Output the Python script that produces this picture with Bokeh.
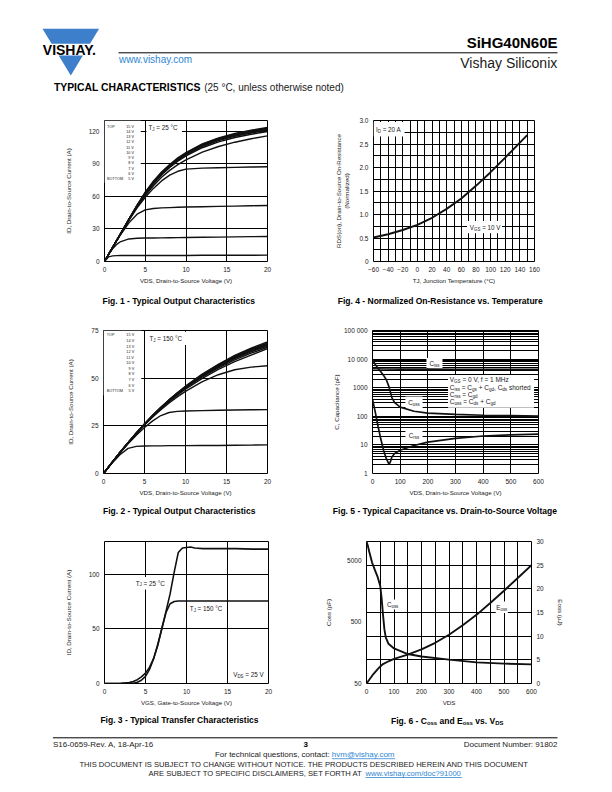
from bokeh.plotting import figure
from bokeh.models import Range1d, FixedTicker, LinearAxis, Grid, Label, LinearScale
from bokeh.layouts import column, row
from bokeh.embed import file_html
from bokeh.resources import INLINE

FONT = "Liberation Sans"
INK = "#1a1a1a"
BLUE = "#2f86d2"
LOGO = "#3d7fca"

# ---------------- data ----------------
# Fig. 1 - output characteristics, TJ = 25 C
f1_vds = [0, 0.5, 1, 1.5, 2, 3, 4, 5, 6, 7, 8, 9, 10, 12, 14, 16, 18, 20]
f1_id_15v = [0, 6.5, 13, 19.5, 26, 39, 52, 64, 74, 82.5, 89.5, 95.5, 100.5, 108.5, 114, 118, 121, 123.5]
f1_id_14v = [0, 6.5, 13, 19.5, 26, 39, 51.8, 63.6, 73.5, 82, 89, 95, 100, 108, 113.5, 117.5, 120.5, 123]
f1_id_13v = [0, 6.5, 13, 19.5, 26, 39, 51.6, 63.2, 73, 81.5, 88.5, 94.5, 99.5, 107.4, 112.9, 116.9, 119.9, 122.4]
f1_id_12v = [0, 6.5, 13, 19.5, 26, 38.9, 51.4, 62.8, 72.5, 81, 88, 94, 99, 106.8, 112.3, 116.3, 119.3, 121.8]
f1_id_11v = [0, 6.5, 13, 19.5, 26, 38.8, 51.2, 62.4, 72, 80.5, 87.5, 93.4, 98.3, 106, 111.5, 115.5, 118.5, 121]
f1_id_10v = [0, 6.5, 13, 19.5, 25.9, 38.7, 50.9, 61.9, 71.4, 79.8, 86.7, 92.5, 97.3, 104.9, 110.3, 114.3, 117.3, 119.8]
f1_id_9v = [0, 6.5, 13, 19.4, 25.8, 38.4, 50.3, 60.8, 69.8, 77.6, 84, 89.3, 93.7, 100.8, 106, 110, 113.2, 115.8]
f1_id_8v = [0, 6.5, 13, 19.4, 25.7, 38, 49.4, 59.2, 67.4, 74.3, 79.6, 83.2, 85.2, 86.1, 86.5, 86.8, 87.1, 87.4]
f1_id_7v = [0, 6.5, 12.9, 19.1, 25, 35.6, 43.6, 47.6, 48.9, 49.4, 49.7, 50, 50.2, 50.5, 50.8, 51.1, 51.4, 51.7]
f1_id_6v = [0, 6.3, 11.8, 15.8, 18.4, 20.8, 21.4, 21.6, 21.7, 21.8, 21.9, 22, 22.1, 22.3, 22.5, 22.7, 22.9, 23.1]
f1_id_5v = [0, 4.3, 5.2, 5.4, 5.5, 5.5, 5.5, 5.5, 5.6, 5.6, 5.6, 5.6, 5.6, 5.7, 5.7, 5.8, 5.8, 5.9]
vgs_labels = ["15 V", "14 V", "13 V", "12 V", "11 V", "10 V", "9 V", "8 V", "7 V", "6 V", "5 V"]

# Fig. 2 - output characteristics, TJ = 150 C
f2_vds = [0, 1, 2, 3, 4, 5, 6, 7, 8, 9, 10, 12, 14, 16, 18, 20]
f2_id_15v = [0, 5.6, 11.0, 16.2, 21.2, 26.0, 30.5, 34.7, 38.6, 42.3, 45.8, 52.0, 57.3, 61.9, 65.7, 69.0]
f2_id_14v = [0, 5.6, 11.0, 16.2, 21.2, 26.0, 30.5, 34.7, 38.6, 42.2, 45.6, 51.8, 57.0, 61.5, 65.3, 68.5]
f2_id_13v = [0, 5.6, 11.0, 16.2, 21.2, 26.0, 30.4, 34.6, 38.5, 42.1, 45.5, 51.6, 56.8, 61.2, 65.0, 68.1]
f2_id_12v = [0, 5.6, 11.0, 16.2, 21.1, 25.9, 30.4, 34.5, 38.4, 42.0, 45.3, 51.4, 56.5, 60.9, 64.6, 67.7]
f2_id_11v = [0, 5.6, 11.0, 16.1, 21.1, 25.9, 30.3, 34.4, 38.3, 41.9, 45.2, 51.2, 56.3, 60.6, 64.3, 67.3]
f2_id_10v = [0, 5.6, 10.9, 16.1, 21.0, 25.8, 30.2, 34.3, 38.2, 41.7, 45.0, 50.9, 55.9, 60.2, 63.8, 66.8]
f2_id_9v = [0, 5.6, 10.9, 16.1, 21.0, 25.7, 30.1, 34.2, 38.0, 41.5, 44.7, 50.5, 55.4, 59.6, 63.1, 66.2]
f2_id_8v = [0, 5.6, 10.9, 16.0, 20.9, 25.6, 30.0, 34.0, 37.7, 41.1, 44.2, 49.8, 54.6, 58.7, 62.1, 65.5]
f2_id_7v = [0, 5.6, 10.9, 16.0, 20.8, 25.4, 29.6, 33.5, 37.0, 40.2, 43.1, 48.0, 51.8, 54.4, 55.8, 56.5]
f2_id_6v = [0, 5.5, 10.7, 15.6, 20.1, 24.1, 27.6, 30.4, 32.0, 32.6, 32.8, 33.0, 33.2, 33.3, 33.4, 33.5]
f2_id_5v = [0, 5.2, 9.8, 13.2, 14.2, 14.4, 14.5, 14.5, 14.6, 14.6, 14.6, 14.7, 14.7, 14.8, 14.9, 15.0]

# Fig. 3 - transfer characteristics, VDS = 25 V
f3_vgs = [0, 2, 3, 3.5, 4, 4.5, 5, 5.5, 6, 6.5, 7, 7.5, 8, 8.5, 9, 9.5, 10, 10.5, 11, 12, 14, 16, 18, 20]
f3_id_25c = [0, 0, 0.1, 0.3, 1.2, 3, 6.5, 13, 23, 36, 50, 66, 82, 102, 120, 124, 124.5, 125, 124, 123.5, 123.5, 123.5, 123, 123]
f3_id_150c = [0, 0.2, 0.8, 1.8, 3.5, 6, 9.5, 15, 23, 35, 51, 65, 73, 75, 75.5, 75.5, 75.5, 75.5, 75.5, 75.5, 75.5, 75.5, 75.5, 75.5]

# Fig. 4 - normalized on-resistance vs. temperature
f4_tj = [-60, -40, -20, 0, 20, 40, 60, 80, 100, 120, 140, 150]
f4_rds = [0.51, 0.58, 0.67, 0.78, 0.93, 1.12, 1.34, 1.61, 1.90, 2.21, 2.53, 2.69]

# Fig. 5 - capacitance vs. VDS
f5_vds_ciss = [0, 50, 100, 200, 300, 400, 500, 600]
f5_ciss = [4600, 4500, 4460, 4430, 4410, 4400, 4400, 4400]
f5_vds_coss = [0, 10, 20, 30, 40, 50, 60, 70, 80, 100, 150, 200, 300, 400, 500, 600]
f5_coss = [9500, 6500, 4800, 3600, 2700, 1900, 1050, 450, 300, 210, 150, 130, 116, 109, 105, 102]
f5_vds_crss = [0, 10, 20, 30, 40, 50, 60, 65, 70, 80, 100, 150, 200, 300, 400, 500, 600]
f5_crss = [400, 140, 45, 16, 6.5, 3.3, 2.1, 2.6, 3.8, 5.0, 6.5, 9.5, 12.5, 17, 20.5, 22.5, 24]

# Fig. 6 - Coss and Eoss vs. VDS
f6_vds_coss = [0, 5, 10, 20, 30, 40, 50, 55, 60, 65, 70, 80, 100, 150, 200, 300, 400, 500, 600]
f6_coss = [10000, 8500, 6800, 4600, 3500, 2700, 1900, 1200, 650, 380, 280, 220, 185, 150, 137, 122, 110, 105, 102]
f6_vds_eoss = [0, 10, 25, 40, 50, 60, 80, 100, 150, 200, 250, 300, 350, 400, 450, 500, 550, 600]
f6_eoss = [0, 0.8, 2.0, 3.0, 3.6, 4.1, 4.7, 5.2, 6.1, 7.2, 8.6, 10.3, 12.3, 14.5, 17.0, 19.6, 22.3, 25.0]

# ---------------- text metrics (Arial / Liberation Sans) ----------------
REG = {' ': 278, '(': 333, ')': 333, ',': 278, '-': 333, '.': 278, '/': 278, ':': 278, '=': 584, '+': 584,
       '@': 1015, '?': 556, '°': 400, 'µ': 556,
       'A': 667, 'B': 667, 'C': 722, 'D': 722, 'E': 667, 'F': 611, 'G': 778, 'H': 722, 'I': 278, 'J': 500,
       'K': 667, 'L': 556, 'M': 833, 'N': 722, 'O': 778, 'P': 667, 'Q': 778, 'R': 722, 'S': 667, 'T': 611,
       'U': 722, 'V': 667, 'W': 944, 'X': 667, 'Y': 667, 'Z': 611,
       'a': 556, 'b': 556, 'c': 500, 'd': 556, 'e': 556, 'f': 278, 'g': 556, 'h': 556, 'i': 222, 'j': 222,
       'k': 500, 'l': 222, 'm': 833, 'n': 556, 'o': 556, 'p': 556, 'q': 556, 'r': 333, 's': 500, 't': 278,
       'u': 556, 'v': 500, 'w': 722, 'x': 500, 'y': 500, 'z': 500}
BOLD = dict(REG)
BOLD.update({'A': 722, 'B': 722, 'J': 556, 'K': 722, 'L': 611, ':': 333,
             'b': 611, 'c': 556, 'd': 611, 'f': 333, 'g': 611, 'h': 611, 'i': 278, 'j': 278, 'k': 556,
             'l': 278, 'm': 889, 'n': 611, 'o': 611, 'p': 611, 'q': 611, 'r': 389, 's': 556, 't': 333,
             'u': 611, 'v': 556, 'w': 778, 'x': 556, 'y': 556})


def tw(s, size, bold=False):
    t = BOLD if bold else REG
    return sum(t.get(ch, 556) for ch in s) * size / 1000.0


def rich(p, x, y, parts, size, align="left", bold=False, color=INK, y_range_name="default"):
    """parts: (text, is_subscript[, color]); leading spaces are turned into offsets (SVG collapses them)."""
    items = []
    for part in parts:
        text, sub = part[0], part[1]
        col = part[2] if len(part) > 2 else color
        fs = size * (0.7 if sub else 1.0)
        items.append((text, sub, col, fs, tw(text, fs, bold)))
    total = sum(it[4] for it in items)
    off = {"left": 0.0, "center": -total / 2.0, "right": -total}[align]
    spans = []
    for text, sub, col, fs, w in items:
        stripped = text.lstrip(" ")
        lead = tw(text[:len(text) - len(stripped)], fs, bold)
        shown = stripped.rstrip(" ")
        if shown:
            p.add_layout(Label(x=x, y=y, x_offset=off + lead, y_offset=(-0.3 * size if sub else 0.0),
                               text=shown, text_font=FONT, text_font_size=f"{fs:.2f}px",
                               text_font_style="bold" if bold else "normal", text_color=col,
                               text_align="left", text_baseline="middle", y_range_name=y_range_name))
        spans.append((off + lead, off + lead + tw(shown, fs, bold)))
        off += w
    return spans


def blank(x0, y0, w, h):
    p = figure(width=w, height=h, x_range=Range1d(x0, x0 + w), y_range=Range1d(y0 + h, y0),
               output_backend="svg", toolbar_location=None, tools="",
               x_axis_location=None, y_axis_location=None, min_border=0)
    p.outline_line_color = None
    p.background_fill_color = "white"
    p.border_fill_color = "white"
    p.grid.visible = False
    return p


def make_chart(fl, ft, fw, fh, xr, yr, y_type="linear", W=306, H=192):
    p = figure(width=W, height=H, x_range=xr, y_range=yr, y_axis_type=y_type,
               output_backend="svg", toolbar_location=None, tools="",
               min_border_left=fl, min_border_top=ft, min_border_right=W - fl - fw,
               min_border_bottom=H - ft - fh)
    p.background_fill_color = "white"
    p.border_fill_color = "white"
    p.outline_line_color = "black"
    p.outline_line_width = 1
    p.grid.grid_line_color = "black"
    p.grid.grid_line_width = 1
    p.grid.grid_line_alpha = 1
    return p


def style_axes(p, ylab_standoff=14, xlab_standoff=2):
    for ax in p.axis:
        ax.axis_line_color = None
        ax.major_tick_line_color = None
        ax.minor_tick_line_color = None
        ax.major_tick_out = 0
        ax.major_tick_in = 0
        ax.minor_tick_out = 0
        ax.minor_tick_in = 0
        ax.major_label_text_font = FONT
        ax.major_label_text_font_size = "6.5px"
        ax.major_label_text_color = INK
        ax.major_label_standoff = 5
        ax.axis_label_text_font = FONT
        ax.axis_label_text_font_size = "6.2px"
        ax.axis_label_text_font_style = "normal"
        ax.axis_label_text_color = INK
    for ax in p.yaxis:
        ax.axis_label_standoff = ylab_standoff
    for ax in p.xaxis:
        ax.axis_label_standoff = xlab_standoff


def white_box(p, l, r, b, t, **kw):
    p.quad(left=l, right=r, bottom=b, top=t, fill_color="white", line_color=None, **kw)


def caption(x0, y0, cx, cy, parts):
    c = blank(x0, y0, 306, 18)
    rich(c, cx, cy, parts, 8.5, align="center", bold=True, color="black")
    return c


LBL = 6.3

# ---------------- header ----------------
head = blank(0, 0, 612, 100)
head.patch([42.0, 98.6, 89.5, 51.1], [28.3, 28.3, 43.3, 43.3], fill_color=LOGO, line_color=None)
head.patch([58.2, 82.4, 70.3], [55.0, 55.0, 75.0], fill_color=LOGO, line_color=None)
rich(head, 70.3, 49.3, [("VISHAY.", 0)], 14, align="center", bold=True, color="black")
head.line([118, 557], [52.3, 52.3], line_color="black", line_width=1)
rich(head, 118.5, 58.5, [("www.vishay.com", 0)], 10, color=BLUE)
rich(head, 557, 41.7, [("SiHG40N60E", 0)], 15, align="right", bold=True, color="black")
rich(head, 557, 62.3, [("Vishay Siliconix", 0)], 14, align="right", color=INK)
sp = rich(head, 53.4, 87.3, [("TYPICAL CHARACTERISTICS", 0)], 10.4, bold=True, color="black")
rich(head, 53.4 + sp[-1][1] + 3.5, 87.3, [("(25 °C, unless otherwise noted)", 0)], 10, color=INK)

# ---------------- Fig. 1 ----------------
p1 = make_chart(104, 18, 163, 143, Range1d(0, 20), Range1d(0, 130))
p1.xaxis.ticker = FixedTicker(ticks=[0, 5, 10, 15, 20])
p1.yaxis.ticker = FixedTicker(ticks=[0, 30, 60, 90, 120])
p1.xaxis.axis_label = "VDS, Drain-to-Source Voltage (V)"
p1.yaxis.axis_label = "ID, Drain-to-Source Current (A)"
white_box(p1, 0, 4.45, 72.5, 130)
white_box(p1, 5.15, 9.5, 118.3, 128.8)
for ys in [f1_id_5v, f1_id_6v, f1_id_7v, f1_id_8v, f1_id_9v, f1_id_10v, f1_id_11v,
           f1_id_12v, f1_id_13v, f1_id_14v, f1_id_15v]:
    p1.line(f1_vds, ys, line_color="#111111", line_width=1.4)
for i, lab in enumerate(vgs_labels):
    rich(p1, 3.62, 124.3 - 4.82 * i, [(lab, 0)], 3.8, align="right")
rich(p1, 0.3, 124.3, [("TOP", 0)], 3.8)
rich(p1, 0.3, 124.3 - 4.82 * 10, [("BOTTOM", 0)], 3.8)
rich(p1, 5.4, 123.6, [("T", 0), ("J", 1), (" = 25 °C", 0)], LBL)
style_axes(p1, ylab_standoff=14)
cap1 = caption(0, 292, 178.5, 300.5, [("Fig. 1 - Typical Output Characteristics", 0)])

# ---------------- Fig. 4 ----------------
p4 = make_chart(67, 20, 161, 143, Range1d(-60, 160), Range1d(0, 3))
p4.xaxis.ticker = FixedTicker(ticks=list(range(-60, 161, 20)))
p4.xgrid.ticker = FixedTicker(ticks=list(range(-60, 161, 10)))
p4.yaxis.ticker = FixedTicker(ticks=[0, 0.5, 1.0, 1.5, 2.0, 2.5, 3.0])
p4.ygrid.ticker = FixedTicker(ticks=[i * 0.25 for i in range(13)])
p4.yaxis.major_label_overrides = {0: "0", 0.5: "0.5", 1: "1.0", 1.5: "1.5", 2: "2.0", 2.5: "2.5", 3: "3.0"}
p4.xaxis.axis_label = "TJ, Junction Temperature (°C)"
p4.yaxis.axis_label = "RDS(on), Drain-to-Source On-Resistance\n(Normalized)"
white_box(p4, -60, -17.5, 2.66, 2.97)
white_box(p4, 67.8, 115.6, 0.6, 0.86)
p4.line(f4_tj, f4_rds, line_color="#111111", line_width=1.9)
rich(p4, -56.6, 2.81, [("I", 0), ("D", 1), (" = 20 A", 0)], LBL)
rich(p4, 71.6, 0.73, [("V", 0), ("GS", 1), (" = 10 V", 0)], LBL)
style_axes(p4, ylab_standoff=6)
cap4 = caption(306, 292, 440, 300.7, [("Fig. 4 - Normalized On-Resistance vs. Temperature", 0)])

# ---------------- Fig. 2 ----------------
p2 = make_chart(103, 20, 164, 143, Range1d(0, 20), Range1d(0, 75))
p2.xaxis.ticker = FixedTicker(ticks=[0, 5, 10, 15, 20])
p2.yaxis.ticker = FixedTicker(ticks=[0, 25, 50, 75])
p2.xaxis.axis_label = "VDS, Drain-to-Source Voltage (V)"
p2.yaxis.axis_label = "ID, Drain-to-Source Current (A)"
white_box(p2, 0, 4.6, 41, 75)
white_box(p2, 5.3, 10.2, 67.4, 74.4)
for ys in [f2_id_5v, f2_id_6v, f2_id_7v, f2_id_8v, f2_id_9v, f2_id_10v, f2_id_11v,
           f2_id_12v, f2_id_13v, f2_id_14v, f2_id_15v]:
    p2.line(f2_vds, ys, line_color="#111111", line_width=1.4)
for i, lab in enumerate(vgs_labels):
    rich(p2, 3.74, 72.4 - 2.92 * i, [(lab, 0)], 3.8, align="right")
rich(p2, 0.39, 72.4, [("TOP", 0)], 3.8)
rich(p2, 0.39, 72.4 - 2.92 * 10, [("BOTTOM", 0)], 3.8)
rich(p2, 5.6, 71.0, [("T", 0), ("J", 1), (" = 150 °C", 0)], LBL)
style_axes(p2, ylab_standoff=14)
cap2 = caption(0, 502, 179, 510.5, [("Fig. 2 - Typical Output Characteristics", 0)])

# ---------------- Fig. 5 ----------------
p5 = make_chart(66, 20, 166, 143, Range1d(0, 600), Range1d(1, 100000), y_type="log")
p5.xaxis.ticker = FixedTicker(ticks=list(range(0, 601, 100)))
p5.yaxis.ticker = FixedTicker(ticks=[1, 10, 100, 1000, 10000, 100000])
p5.ygrid.ticker = FixedTicker(ticks=[m * 10 ** k for k in range(5) for m in range(1, 10)] + [100000])
p5.ygrid.grid_line_width = 1.2
p5.yaxis.major_label_overrides = {1: "1", 10: "10", 100: "100", 1000: "1000", 10000: "10 000", 100000: "100 000"}
p5.xaxis.axis_label = "VDS, Drain-to-Source Voltage (V)"
p5.yaxis.axis_label = "C, Capacitance (pF)"
white_box(p5, 195, 253, 4800, 11000)
white_box(p5, 273, 584, 200, 2800)
white_box(p5, 119, 181, 195, 490)
white_box(p5, 119, 181, 13.5, 34)
p5.line(f5_vds_ciss, f5_ciss, line_color="#111111", line_width=1.7)
p5.line(f5_vds_coss, f5_coss, line_color="#111111", line_width=1.7)
p5.line(f5_vds_crss, f5_crss, line_color="#111111", line_width=1.7)
rich(p5, 224, 7000, [("C", 0), ("iss", 1)], LBL, align="center")
rich(p5, 150, 311, [("C", 0), ("oss", 1)], LBL, align="center")
rich(p5, 150, 21, [("C", 0), ("rss", 1)], LBL, align="center")
rich(p5, 279, 1888, [("V", 0), ("GS", 1), (" = 0 V, f = 1 MHz", 0)], 6.5)
rich(p5, 279, 1040, [("C", 0), ("iss", 1), (" = C", 0), ("gs", 1), (" + C", 0), ("gd", 1), (", C", 0), ("ds", 1), (" shorted", 0)], 6.5)
rich(p5, 279, 578, [("C", 0), ("rss", 1), (" = C", 0), ("gd", 1)], 6.5)
rich(p5, 279, 329, [("C", 0), ("oss", 1), (" = C", 0), ("ds", 1), (" + C", 0), ("gd", 1)], 6.5)
style_axes(p5, ylab_standoff=1)
cap5 = caption(306, 502, 445, 510.5, [("Fig. 5 - Typical Capacitance vs. Drain-to-Source Voltage", 0)])

# ---------------- Fig. 3 ----------------
p3 = make_chart(104, 20, 164, 143, Range1d(0, 20), Range1d(0, 130))
p3.xaxis.ticker = FixedTicker(ticks=[0, 5, 10, 15, 20])
p3.yaxis.ticker = FixedTicker(ticks=[0, 50, 100])
p3.xaxis.axis_label = "VGS, Gate-to-Source Voltage (V)"
p3.yaxis.axis_label = "ID, Drain-to-Source Current (A)"
white_box(p3, 3.55, 7.9, 86, 97.5)
white_box(p3, 10.2, 14.9, 63.5, 73.8)
white_box(p3, 15.4, 19.6, 3.5, 13)
p3.line(f3_vgs, f3_id_25c, line_color="#111111", line_width=1.6)
p3.line(f3_vgs, f3_id_150c, line_color="#111111", line_width=1.6)
rich(p3, 3.8, 92, [("T", 0), ("J", 1), (" = 25 °C", 0)], LBL)
rich(p3, 10.4, 69, [("T", 0), ("J", 1), (" = 150 °C", 0)], LBL)
rich(p3, 15.7, 8.2, [("V", 0), ("DS", 1), (" = 25 V", 0)], LBL)
style_axes(p3, ylab_standoff=14)
cap3 = caption(0, 712, 179.5, 719.5, [("Fig. 3 - Typical Transfer Characteristics", 0)])

# ---------------- Fig. 6 ----------------
p6 = make_chart(60, 21, 165, 142, Range1d(0, 600), Range1d(50, 10000), y_type="log")
p6.extra_y_ranges = {"eoss": Range1d(0, 30)}
p6.extra_y_scales = {"eoss": LinearScale()}
p6.add_layout(LinearAxis(y_range_name="eoss", ticker=FixedTicker(ticks=[0, 5, 10, 15, 20, 25, 30]),
                         axis_label="Eoss (µJ)"), "right")
p6.xaxis.ticker = FixedTicker(ticks=list(range(0, 601, 100)))
p6.xgrid.ticker = FixedTicker(ticks=list(range(0, 601, 50)))
p6.yaxis[0].ticker = FixedTicker(ticks=[50, 500, 5000])
p6.yaxis[0].major_label_overrides = {50: "50", 500: "500", 5000: "5000"}
p6.yaxis[0].axis_label = "Coss (pF)"
p6.xaxis.axis_label = "VDS"
p6.ygrid.visible = False
p6.add_layout(Grid(dimension=1, ticker=FixedTicker(ticks=[5, 10, 15, 20, 25]), y_range_name="eoss",
                   grid_line_color="black", grid_line_width=1))
white_box(p6, 68, 122, 790, 1150)
white_box(p6, 470, 514, 14.9, 17.3, y_range_name="eoss")
p6.line(f6_vds_coss, f6_coss, line_color="#111111", line_width=1.9)
p6.line(f6_vds_eoss, f6_eoss, line_color="#111111", line_width=1.9, y_range_name="eoss")
rich(p6, 95, 953, [("C", 0), ("oss", 1)], LBL, align="center")
rich(p6, 492, 16.1, [("E", 0), ("oss", 1)], LBL, align="center", y_range_name="eoss")
style_axes(p6, ylab_standoff=12)
p6.yaxis[1].axis_label_standoff = 10
cap6 = caption(306, 712, 446.7, 720, [("Fig. 6 - C", 0), ("oss", 1), (" and E", 0), ("oss", 1), (" vs. V", 0), ("DS", 1)])

# ---------------- footer ----------------
foot = blank(0, 730, 612, 62)
foot.line([52.4, 557], [737.3, 737.3], line_color="black", line_width=1)
rich(foot, 52.4, 743.5, [("S16-0659-Rev. A, 18-Apr-16", 0)], 8)
rich(foot, 305.3, 744.3, [("3", 0)], 8, align="center", bold=True, color="black")
rich(foot, 557, 743.5, [("Document Number: 91802", 0)], 8, align="right")
cx = 304.5
sp = rich(foot, cx, 754.3, [("For technical questions, contact: ", 0), ("hvm@vishay.com", 0, BLUE)], 8, align="center")
foot.line([cx + sp[1][0], cx + sp[1][1]], [758.2, 758.2], line_color=BLUE, line_width=0.8)
rich(foot, 304, 764.3, [("THIS DOCUMENT IS SUBJECT TO CHANGE WITHOUT NOTICE. THE PRODUCTS DESCRIBED HEREIN AND THIS DOCUMENT", 0)],
     7.6, align="center")
sp = rich(foot, 304.7, 773.3, [("ARE SUBJECT TO SPECIFIC DISCLAIMERS, SET FORTH AT ", 0), ("www.vishay.com/doc?91000", 0, BLUE)],
          7.6, align="center")
foot.line([304.7 + sp[1][0], 304.7 + sp[1][1]], [777.0, 777.0], line_color=BLUE, line_width=0.8)

layout = column(head,
                row(p1, p4), row(cap1, cap4),
                row(p2, p5), row(cap2, cap5),
                row(p3, p6), row(cap3, cap6),
                foot)

open("out.html", "w").write(file_html(layout, INLINE))
